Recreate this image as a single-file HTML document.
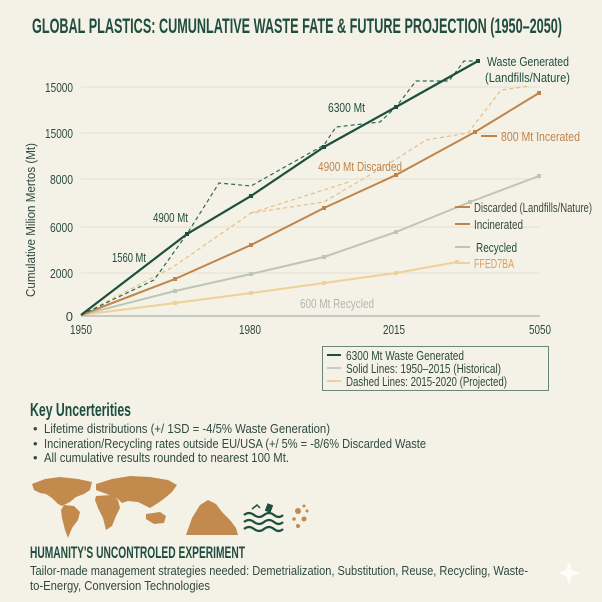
<!DOCTYPE html>
<html><head><meta charset="utf-8">
<style>
html,body{margin:0;padding:0;background:#f4f2e7;}
body{width:602px;height:602px;overflow:hidden;position:relative;font-family:"Liberation Sans",sans-serif;}
svg{position:absolute;left:0;top:0;}
</style></head><body>
<svg width="602" height="602" viewBox="0 0 602 602">
<rect width="602" height="602" fill="#f4f2e7"/>
<text x="32" y="33" font-weight="bold" font-size="21" fill="#1f4d3f" textLength="530" lengthAdjust="spacingAndGlyphs">GLOBAL PLASTICS: CUMUNLATIVE WASTE FATE &amp; FUTURE PROJECTION (1950–2050)</text>
<g stroke="#e2e0d2" stroke-width="1">
<line x1="81" y1="87" x2="540" y2="87"/><line x1="81" y1="133" x2="540" y2="133"/>
<line x1="81" y1="179" x2="540" y2="179"/><line x1="81" y1="227" x2="540" y2="227"/>
<line x1="81" y1="273" x2="540" y2="273"/>
</g>
<line x1="81" y1="316" x2="540" y2="316" stroke="#9aa39a" stroke-width="1"/>
<g font-size="13" fill="#2f4a40" text-anchor="end">
<text x="73" y="92" textLength="28" lengthAdjust="spacingAndGlyphs">15000</text><text x="73" y="138" textLength="28" lengthAdjust="spacingAndGlyphs">15000</text><text x="73" y="184" textLength="23" lengthAdjust="spacingAndGlyphs">8000</text>
<text x="73" y="232" textLength="23" lengthAdjust="spacingAndGlyphs">6000</text><text x="73" y="278" textLength="23" lengthAdjust="spacingAndGlyphs">2000</text><text x="73" y="321">0</text>
</g>
<g font-size="13" fill="#2f4a40" text-anchor="middle">
<text x="81" y="334" textLength="22" lengthAdjust="spacingAndGlyphs">1950</text><text x="250" y="334" textLength="22" lengthAdjust="spacingAndGlyphs">1980</text><text x="394" y="334" textLength="22" lengthAdjust="spacingAndGlyphs">2015</text><text x="540" y="334" textLength="22" lengthAdjust="spacingAndGlyphs">5050</text>
</g>
<text transform="translate(35,297) rotate(-90)" font-size="13" fill="#2f4a40" textLength="154" lengthAdjust="spacingAndGlyphs">Cumulative Milion Mertos (Mt)</text>
<polyline fill="none" stroke="#f0d09a" stroke-width="2" points="81,315 175,303 251,293 324,283 396,273 457,262"/>
<polyline fill="none" stroke="#bcc6b6" stroke-width="2" points="81,315 175,291 251,274 324,257 396,232 470,202 539,176"/>
<polyline fill="none" stroke="#e9bd82" stroke-width="1.2" stroke-dasharray="4,3" points="81,315 173,267 251,213 324,202 395,160 426,140 468,133 501,90 530,86"/>
<polyline fill="none" stroke="#e9bd82" stroke-width="1.2" stroke-dasharray="4,3" points="251,213 349,182"/>
<polyline fill="none" stroke="#c0844a" stroke-width="2" points="81,315 175,279 251,245 324,208 396,175 475,132 539,93"/>
<polyline fill="none" stroke="#2e6a52" stroke-width="1.2" stroke-dasharray="4,3" points="81,315 154,280 187,234 219,183 251,186 324,145 336,127 380,122 396,107 416,81 449,81 464,61 478,61"/>
<polyline fill="none" stroke="#1d4f3e" stroke-width="2.2" points="81,315 187,234 251,196 324,147 396,107 478,61"/>
<g fill="#1d4f3e"><rect x="185" y="232" width="4" height="4"/><rect x="249" y="194" width="4" height="4"/><rect x="322" y="145" width="4" height="4"/><rect x="394" y="105" width="4" height="4"/><rect x="476" y="59" width="4" height="4"/></g>
<g fill="#c0844a"><rect x="173" y="277" width="4" height="4"/><rect x="249" y="243" width="4" height="4"/><rect x="322" y="206" width="4" height="4"/><rect x="394" y="173" width="4" height="4"/><rect x="473" y="130" width="4" height="4"/><rect x="537" y="91" width="4" height="4"/></g>
<g fill="#bcc6b6"><rect x="173" y="289" width="4" height="4"/><rect x="249" y="272" width="4" height="4"/><rect x="322" y="255" width="4" height="4"/><rect x="394" y="230" width="4" height="4"/><rect x="468" y="200" width="4" height="4"/><rect x="537" y="174" width="4" height="4"/></g>
<g fill="#f0d09a"><rect x="173" y="301" width="4" height="4"/><rect x="249" y="291" width="4" height="4"/><rect x="322" y="281" width="4" height="4"/><rect x="394" y="271" width="4" height="4"/><rect x="455" y="260" width="4" height="4"/></g>
<g font-size="13">
<text x="487" y="66" fill="#1f4d3f" textLength="82" lengthAdjust="spacingAndGlyphs">Waste Generated</text>
<text x="485" y="82" fill="#1f4d3f" textLength="85" lengthAdjust="spacingAndGlyphs">(Landfills/Nature)</text>
<text x="328" y="112" fill="#1f4d3f" textLength="37" lengthAdjust="spacingAndGlyphs">6300 Mt</text>
<line x1="481" y1="136" x2="497" y2="136" stroke="#c0844a" stroke-width="2"/>
<text x="501" y="141" fill="#c0844a" textLength="79" lengthAdjust="spacingAndGlyphs">800 Mt Incerated</text>
<text x="318" y="171" fill="#c0844a" textLength="84" lengthAdjust="spacingAndGlyphs">4900 Mt Discarded</text>
<text x="153" y="222" fill="#1f4d3f" textLength="35" lengthAdjust="spacingAndGlyphs">4900 Mt</text>
<text x="112" y="262" fill="#1f4d3f" textLength="34" lengthAdjust="spacingAndGlyphs">1560 Mt</text>
<line x1="455" y1="207" x2="470" y2="207" stroke="#c0844a" stroke-width="2"/>
<text x="474" y="212" fill="#3a4a40" textLength="118" lengthAdjust="spacingAndGlyphs">Discarded (Landfills/Nature)</text>
<line x1="455" y1="224" x2="470" y2="224" stroke="#c0844a" stroke-width="2"/>
<text x="474" y="229" fill="#3a4a40" textLength="49" lengthAdjust="spacingAndGlyphs">Incinerated</text>
<line x1="455" y1="247" x2="470" y2="247" stroke="#bcc6b6" stroke-width="2"/>
<text x="476" y="252" fill="#1f4d3f" textLength="41" lengthAdjust="spacingAndGlyphs">Recycled</text>
<line x1="455" y1="263" x2="470" y2="263" stroke="#f0d09a" stroke-width="2"/>
<text x="474" y="268" fill="#d9a060" textLength="40" lengthAdjust="spacingAndGlyphs">FFED7BA</text>
<text x="300" y="308" fill="#b0b8ae" textLength="74" lengthAdjust="spacingAndGlyphs">600 Mt Recycled</text>
</g>
<rect x="322.5" y="346.5" width="226" height="44" fill="none" stroke="#6b8579" stroke-width="1"/>
<line x1="327" y1="355" x2="341" y2="355" stroke="#1d4f3e" stroke-width="2"/>
<line x1="327" y1="368" x2="341" y2="368" stroke="#c6cec2" stroke-width="2"/>
<line x1="327" y1="381" x2="341" y2="381" stroke="#f0d09a" stroke-width="2"/>
<g font-size="13" fill="#2f4a40">
<text x="346" y="360" textLength="118" lengthAdjust="spacingAndGlyphs">6300 Mt Waste Generated</text>
<text x="346" y="373" textLength="155" lengthAdjust="spacingAndGlyphs">Solid Lines: 1950–2015 (Historical)</text>
<text x="346" y="386" textLength="161" lengthAdjust="spacingAndGlyphs">Dashed Lines: 2015-2020 (Projected)</text>
</g>
<text x="30" y="416" font-weight="bold" font-size="18" fill="#1f4d3f" textLength="101" lengthAdjust="spacingAndGlyphs">Key Uncerterities</text>
<g font-size="13" fill="#2f4a40">
<text x="33" y="433">•</text><text x="44" y="433" textLength="286" lengthAdjust="spacingAndGlyphs">Lifetime distributions (+/  1SD = -4/5% Waste Generation)</text>
<text x="33" y="448">•</text><text x="44" y="448" textLength="382" lengthAdjust="spacingAndGlyphs">Incineration/Recycling rates outside EU/USA (+/ 5% = -8/6% Discarded Waste</text>
<text x="33" y="462">•</text><text x="44" y="462" textLength="245" lengthAdjust="spacingAndGlyphs">All cumulative results rounded to nearest 100 Mt.</text>
</g>
<g fill="#c28a4c">
<path d="M32,484 L45,479 L60,477 L78,479 L92,482 L90,490 L84,494 L76,497 L70,502 L62,506 L58,504 L52,498 L46,494 L40,493 L34,490Z"/>
<path d="M64,505 L74,506 L80,512 L78,520 L72,528 L68,538 L65,530 L62,518 L61,510Z"/>
<path d="M96,484 L112,479 L130,476 L150,477 L168,480 L177,485 L172,492 L165,498 L158,503 L150,508 L144,505 L138,502 L128,501 L122,503 L118,499 L112,496 L104,493 L96,490Z"/>
<path d="M96,496 L112,495 L118,500 L120,508 L116,516 L112,526 L106,530 L103,518 L98,508 L95,500Z"/>
<path d="M146,514 L160,512 L166,516 L164,523 L154,524 L146,519Z"/>
<path d="M186,535 L192,518 L200,505 L208,500 L216,504 L222,512 L230,520 L236,528 L238,535Z"/>
<circle cx="298" cy="511" r="3"/><circle cx="304" cy="506" r="1.5"/><circle cx="307" cy="511" r="1.5"/><circle cx="294" cy="519" r="1.8"/><circle cx="304" cy="519" r="2.5"/><circle cx="298" cy="526" r="2"/>
</g>
<g fill="none" stroke="#1d4f3e" stroke-width="2.2">
<path d="M244,515 q5,-4 10,0 t10,0 t10,0 t9,0"/>
<path d="M244,522 q5,-4 10,0 t10,0 t10,0 t9,0"/>
<path d="M244,529 q5,-4 10,0 t10,0 t10,0 t9,0"/>
</g>
<rect x="266" y="504" width="6" height="8" fill="#1d4f3e" transform="rotate(20 269 508)"/>
<path d="M252,509 l5,-4 l3,3" stroke="#1d4f3e" stroke-width="1.5" fill="none"/>
<text x="30" y="558" font-weight="bold" font-size="17" fill="#1f4d3f" textLength="215" lengthAdjust="spacingAndGlyphs">HUMANITY'S UNCONTROLED EXPERIMENT</text>
<g font-size="13" fill="#2f4a40">
<text x="30" y="575" textLength="498" lengthAdjust="spacingAndGlyphs">Tailor-made management strategies needed: Demetrialization, Substitution, Reuse, Recycling, Waste-</text>
<text x="30" y="590" textLength="180" lengthAdjust="spacingAndGlyphs">to-Energy, Conversion Technologies</text>
</g>
<path d="M569,562 l3,8 l8,3 l-8,3 l-3,8 l-3,-8 l-8,-3 l8,-3z" fill="#ffffff" opacity="0.8"/>
</svg>
</body></html>
